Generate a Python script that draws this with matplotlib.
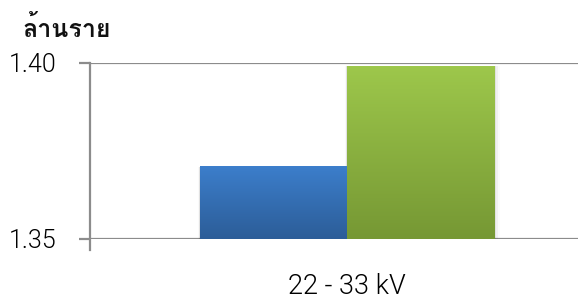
import matplotlib
matplotlib.use("Agg")
import matplotlib.pyplot as plt
import numpy as np
from matplotlib import font_manager
from matplotlib.ft2font import FT2Font
from matplotlib.lines import Line2D

# ---- data ----
categories = ["22 - 33 kV"]
series_names = ["A", "B"]
series_values = [1.3705, 1.3991]
y_ticks = [1.35, 1.40]
y_tick_labels = ["1.35", "1.40"]
unit_label = "ล้านราย"

# ---- find a font with Thai glyphs ----
thai_family = None
for f in font_manager.fontManager.ttflist:
    try:
        cmap = FT2Font(f.fname).get_charmap()
    except Exception:
        continue
    if ord("ล") in cmap:
        thai_family = f.name
        break
fam = [thai_family, "DejaVu Sans"] if thai_family else ["DejaVu Sans"]
txt_fam = ["Roboto", "DejaVu Sans"]
txt_w = 300

W, H = 578, 302
fig = plt.figure(figsize=(W / 100, H / 100), dpi=100)
left = 90 / W
right_px = 604
bottom = (H - 239) / H
top = (H - 63) / H
ax = fig.add_axes([left, bottom, (right_px - 90) / W, top - bottom])

colors_top = ["#3C7ECB", "#9DC74B"]
colors_bot = ["#2C5D98", "#769834"]
bw = 0.286
offsets = [-bw / 2, bw / 2]
base = 1.35

for i, (v, ct, cb) in enumerate(zip(series_values, colors_top, colors_bot)):
    x0 = offsets[i] - bw / 2
    x1 = offsets[i] + bw / 2
    for k, a in enumerate([0.06, 0.04, 0.02]):
        d = 0.004 * (k + 1)
        ax.fill_between([x0 - d * 0.3, x1 + d], base, v + d * 0.001,
                        color="black", alpha=a, lw=0, zorder=2)
    c1 = np.array(matplotlib.colors.to_rgb(ct))
    c2 = np.array(matplotlib.colors.to_rgb(cb))
    t = np.linspace(0, 1, 64)[:, None]
    grad = (c1 * (1 - t) + c2 * t)[:, None, :]
    ax.imshow(grad, extent=[x0, x1, base, v], aspect="auto",
              origin="upper", zorder=3, interpolation="bilinear")

ax.set_xlim(-0.5, 0.5)
ax.set_ylim(1.35, 1.40)

gray = "#8C8C8C"
for sp in ["top", "right", "bottom", "left"]:
    ax.spines[sp].set_visible(False)
for yv in y_ticks:
    ax.axhline(yv, color=gray, lw=1.6, zorder=1)
ax.add_line(Line2D([0, 0], [-11 / 176, 1.0], transform=ax.transAxes,
                   color=gray, lw=1.6, clip_on=False, zorder=4))
ax.set_yticks(y_ticks)
ax.set_yticklabels(y_tick_labels)
ax.tick_params(axis="y", length=8, width=1.6, color=gray, pad=16,
               labelsize=18, labelcolor="#000000")
for lab in ax.get_yticklabels():
    lab.set_family(txt_fam)
    lab.set_fontweight(txt_w)
ax.set_xticks([])

fig.text(347 / W, (H - 286) / H, categories[0], ha="center", va="center",
         fontsize=19.5, color="#000000", family=txt_fam, fontweight=txt_w)

fig.text(22 / W, (H - 37) / H, unit_label, ha="left", va="baseline",
         fontsize=18, fontweight="bold", family=fam, color="#111111")

fig.savefig("out.png", dpi=100)
